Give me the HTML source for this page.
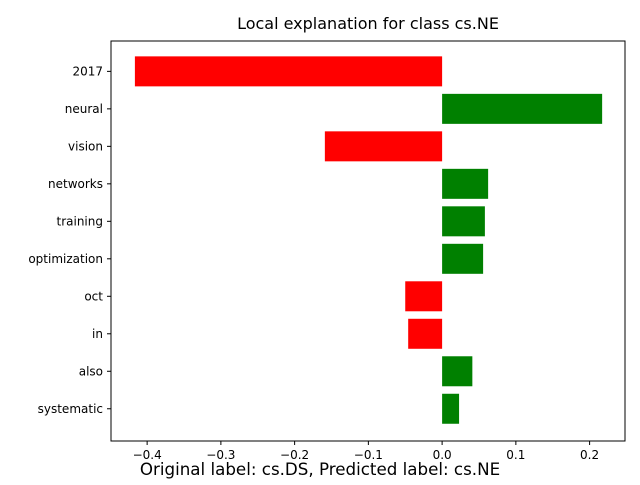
<!DOCTYPE html>
<html><head><meta charset="utf-8"><style>
body{margin:0;background:#fff;}
svg text{font-family:"DejaVu Sans","Liberation Sans",sans-serif;}
</style></head><body>
<svg id="chart" width="640" height="480" xmlns="http://www.w3.org/2000/svg">
<rect width="640" height="480" fill="#fff"/>
<g id="bars"></g><g id="axes"></g>
<text x="368" y="29" text-anchor="middle" font-size="16">Local explanation for class cs.NE</text>
<text x="320" y="475" text-anchor="middle" font-size="16.7">Original label: cs.DS, Predicted label: cs.NE</text>
</svg>
<script>
const features=["2017","neural","vision","networks","training","optimization","oct","in","also","systematic"];
const weights=[-0.4166,0.217,-0.159,0.0624,0.058,0.0556,-0.050,-0.046,0.041,0.023];
const xTicks=[-0.4,-0.3,-0.2,-0.1,0.0,0.1,0.2];
const xTickLabels=["−0.4","−0.3","−0.2","−0.1","0.0","0.1","0.2"];
const L=111,R=625,T=41,B=441,xmin=-0.449,xmax=0.248;
const NS="http://www.w3.org/2000/svg";
const x=v=>L+(v-xmin)/(xmax-xmin)*(R-L);
const step=(B-T)/(features.length+0.67);
const y=i=>T+step*0.81+i*step;
const bars=document.getElementById('bars'),axes=document.getElementById('axes');
function mk(tag,a,p){const e=document.createElementNS(NS,tag);for(const k in a)e.setAttribute(k,a[k]);p.appendChild(e);return e;}
weights.forEach((w,i)=>{
 const r=mk('rect',{x:Math.min(x(0),x(w)),y:y(i)-15,width:Math.abs(x(w)-x(0)),height:30,fill:w<0?'#ff0000':'#008000'},bars);
 
 
 mk('line',{x1:L-4,x2:L,y1:y(i),y2:y(i),stroke:'#000'},axes);
 const t=mk('text',{x:L-8,y:y(i)+4,'text-anchor':'end','font-size':'12'},axes);
 t.textContent=features[i];
 
 
});
xTicks.forEach((v,i)=>{
 mk('line',{x1:x(v),x2:x(v),y1:B,y2:B+4,stroke:'#000'},axes);
 const t=mk('text',{x:x(v),y:B+18,'text-anchor':'middle','font-size':'12'},axes);
 t.textContent=xTickLabels[i];
 
 
});
const f=mk('rect',{x:L,y:T,width:R-L,height:B-T,fill:'none',stroke:'#000','stroke-width':1},axes);


</script>
</body></html>
